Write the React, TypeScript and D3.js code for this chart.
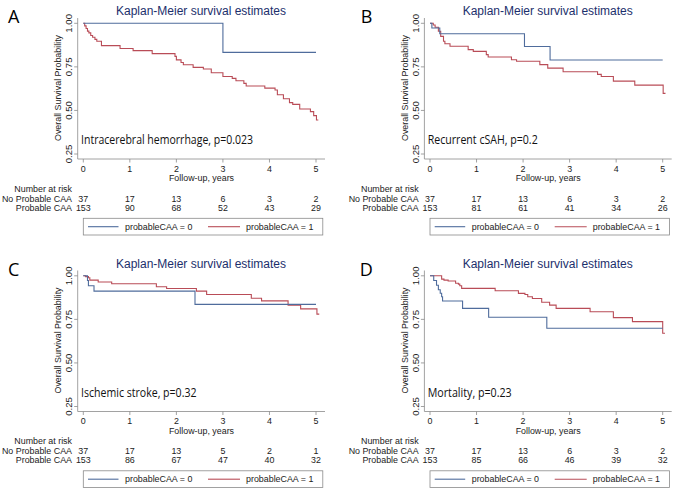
import React from "react";
import * as d3 from "d3";

// ---------- data ----------
const years = [0, 1, 2, 3, 4, 5];
const yTicks = [0.25, 0.5, 0.75, 1.0];
const groupLabels = ["No Probable CAA", "Probable CAA"];
const legendLabels = ["probableCAA = 0", "probableCAA = 1"];
const panelLetters = ["A", "B", "C", "D"];
const outcomeLabels = [
  "Intracerebral hemorrhage, p=0.023",
  "Recurrent cSAH, p=0.2",
  "Ischemic stroke, p=0.32",
  "Mortality, p=0.23",
];

// Kaplan-Meier step points [years, survival]
const ichNo: [number, number][] = [[0, 1], [3.0, 0.833], [5.0, 0.833]];
const ichProb: [number, number][] = [
  [0, 1], [0.03, 0.985], [0.06, 0.97], [0.09, 0.955], [0.12, 0.945], [0.16, 0.93], [0.2, 0.92],
  [0.25, 0.908], [0.29, 0.897], [0.39, 0.872], [0.79, 0.855], [1.07, 0.843], [1.48, 0.826],
  [1.97, 0.81], [2.0, 0.79], [2.1, 0.775], [2.15, 0.762], [2.36, 0.747], [2.58, 0.738],
  [2.75, 0.716], [3.0, 0.695], [3.2, 0.684], [3.28, 0.67], [3.45, 0.655], [3.5, 0.64],
  [3.9, 0.628], [4.12, 0.617], [4.17, 0.59], [4.3, 0.567], [4.43, 0.545], [4.5, 0.535],
  [4.65, 0.508], [4.88, 0.493], [4.95, 0.47], [5.01, 0.445], [5.05, 0.445],
];
const sahNo: [number, number][] = [[0, 1], [0.04, 0.973], [0.21, 0.94], [2.03, 0.867], [2.58, 0.789], [5.0, 0.789]];
const sahProb: [number, number][] = [
  [0, 1], [0.07, 0.99], [0.11, 0.977], [0.18, 0.954], [0.23, 0.925], [0.29, 0.897], [0.32, 0.883],
  [0.43, 0.868], [0.82, 0.849], [0.93, 0.839], [1.21, 0.82], [1.25, 0.807], [1.75, 0.791],
  [1.86, 0.782], [2.36, 0.763], [2.53, 0.743], [2.86, 0.722], [3.6, 0.707], [3.68, 0.695],
  [3.94, 0.668], [4.4, 0.645], [5.01, 0.598], [5.06, 0.598],
];
const strokeNo: [number, number][] = [[0, 1], [0.09, 0.973], [0.11, 0.943], [0.23, 0.912], [2.4, 0.836], [5.0, 0.836]];
const strokeProb: [number, number][] = [
  [0, 1], [0.05, 0.995], [0.11, 0.989], [0.14, 0.975], [0.32, 0.964], [0.61, 0.954], [1.57, 0.937],
  [1.79, 0.927], [2.43, 0.912], [2.65, 0.893], [3.61, 0.871], [3.83, 0.856], [4.4, 0.832],
  [4.67, 0.81], [5.02, 0.78], [5.07, 0.78],
];
const deathNo: [number, number][] = [
  [0, 1], [0.08, 0.973], [0.14, 0.946], [0.18, 0.92], [0.22, 0.9], [0.25, 0.88], [0.27, 0.855],
  [0.7, 0.813], [1.26, 0.762], [2.51, 0.699], [5.0, 0.699],
];
const deathProb: [number, number][] = [
  [0, 1], [0.25, 0.981], [0.3, 0.975], [0.39, 0.97], [0.55, 0.957], [0.61, 0.952], [0.64, 0.943],
  [0.68, 0.928], [1.4, 0.914], [1.9, 0.899], [2.04, 0.893], [2.1, 0.88], [2.2, 0.87], [2.4, 0.848],
  [2.57, 0.832], [2.71, 0.813], [3.44, 0.794], [3.94, 0.76], [4.35, 0.737], [5.0, 0.67], [5.05, 0.67],
];

// Number at risk
const riskNoA = [37, 17, 13, 6, 3, 2];
const riskProbA = [153, 90, 68, 52, 43, 29];
const riskNoB = [37, 17, 13, 6, 3, 2];
const riskProbB = [153, 81, 61, 41, 34, 26];
const riskNoC = [37, 17, 13, 5, 2, 1];
const riskProbC = [153, 86, 67, 47, 40, 32];
const riskNoD = [37, 17, 13, 6, 3, 2];
const riskProbD = [153, 85, 66, 46, 39, 32];

// ---------- styles ----------
const BLUE = "#4f6c9c";
const RED = "#b94c57";
const TITLE = "#1c2f6c";
const AXIS = "#8a8a8a";
const SANS = "'Liberation Sans', Arial, Helvetica, sans-serif";
const CAL = "'Open Sans', 'Noto Sans', sans-serif";

type PanelProps = {
  ox: number;
  oy: number;
  letter: string;
  letterX: number;
  no: [number, number][];
  prob: [number, number][];
  riskNo: number[];
  riskProb: number[];
  label: string;
  labelWidth: number;
};

function Panel({ ox, oy, letter, letterX, no, prob, riskNo, riskProb, label, labelWidth }: PanelProps) {
  const x = d3.scaleLinear().domain([0, 5]).range([83.3, 316]);
  const y = d3.scaleLinear().domain([0.25, 1]).range([154, 23.3]);
  const line = d3
    .line<[number, number]>()
    .x((d) => x(d[0]))
    .y((d) => y(d[1]))
    .curve(d3.curveStepAfter);
  const fmt = d3.format(".2f");
  const axX = 77.7;
  const axY = 159;
  const fs = 8.9;
  return (
    <g transform={`translate(${ox},${oy})`}>
      <text x={letterX} y={23} fontFamily={CAL} fontSize={18} fill="#000">
        {letter}
      </text>
      <text x={201} y={15} textAnchor="middle" fontFamily={SANS} fontSize={12} fill={TITLE}>
        Kaplan-Meier survival estimates
      </text>
      {/* axes */}
      <line x1={axX} x2={axX} y1={18} y2={axY} stroke={AXIS} strokeWidth={0.8} />
      <line x1={axX} x2={325} y1={axY} y2={axY} stroke={AXIS} strokeWidth={0.8} />
      {yTicks.map((v) => (
        <g key={v}>
          <line x1={axX - 3.5} x2={axX} y1={y(v)} y2={y(v)} stroke={AXIS} strokeWidth={0.8} />
          <text
            transform={`translate(${71.8},${y(v)}) rotate(-90)`}
            textAnchor="middle"
            fontFamily={SANS}
            fontSize={9.6}
            fill="#222"
          >
            {fmt(v)}
          </text>
        </g>
      ))}
      {years.map((t) => (
        <g key={t}>
          <line x1={x(t)} x2={x(t)} y1={axY} y2={axY + 3.5} stroke={AXIS} strokeWidth={0.8} />
          <text x={x(t)} y={171.5} textAnchor="middle" fontFamily={SANS} fontSize={fs} fill="#222">
            {t}
          </text>
        </g>
      ))}
      <text x={201.5} y={181} textAnchor="middle" fontFamily={SANS} fontSize={fs} fill="#222">
        Follow-up, years
      </text>
      <text
        transform={`translate(61,88) rotate(-90)`}
        textAnchor="middle"
        fontFamily={SANS}
        fontSize={fs}
        fill="#222"
      >
        Overall Survival Probability
      </text>
      {/* curves */}
      <path d={line(prob) || ""} fill="none" stroke={RED} strokeWidth={1.1} />
      <path d={line(no) || ""} fill="none" stroke={BLUE} strokeWidth={1.1} />
      {/* annotation */}
      <text
        x={81}
        y={144}
        fontFamily={CAL}
        fontSize={13}
        fill="#111"
        textLength={labelWidth}
        lengthAdjust="spacingAndGlyphs"
      >
        {label}
      </text>
      {/* risk table */}
      <text x={72} y={191.5} textAnchor="end" fontFamily={SANS} fontSize={fs} fill="#222">
        Number at risk
      </text>
      <text x={72} y={201.5} textAnchor="end" fontFamily={SANS} fontSize={fs} fill="#222">
        {groupLabels[0]}
      </text>
      <text x={72} y={210.8} textAnchor="end" fontFamily={SANS} fontSize={fs} fill="#222">
        {groupLabels[1]}
      </text>
      {years.map((t, i) => (
        <g key={"r" + t}>
          <text x={x(t)} y={201.5} textAnchor="middle" fontFamily={SANS} fontSize={fs} fill="#222">
            {riskNo[i]}
          </text>
          <text x={x(t)} y={210.8} textAnchor="middle" fontFamily={SANS} fontSize={fs} fill="#222">
            {riskProb[i]}
          </text>
        </g>
      ))}
      {/* legend */}
      <rect x={83.3} y={218.3} width={239.5} height={16.7} fill="#fff" stroke="#8a8a8a" strokeWidth={0.8} />
      <line x1={88} x2={118.5} y1={226.7} y2={226.7} stroke={BLUE} strokeWidth={1.1} />
      <text x={125} y={229.8} fontFamily={SANS} fontSize={fs} fill="#222">
        {legendLabels[0]}
      </text>
      <line x1={208} x2={240} y1={226.7} y2={226.7} stroke={RED} strokeWidth={1.1} />
      <text x={246} y={229.8} fontFamily={SANS} fontSize={fs} fill="#222">
        {legendLabels[1]}
      </text>
    </g>
  );
}

export default function App() {
  const dx = 346.7;
  const dy = 252.5;
  return (
    <svg
      width={676}
      height={490}
      style={{ position: "absolute", left: 0, top: 0, display: "block", background: "#fff" }}
    >
      <rect width={676} height={490} fill="#fff" />
      <Panel ox={0} oy={0} letter={panelLetters[0]} letterX={8} no={ichNo} prob={ichProb}
        riskNo={riskNoA} riskProb={riskProbA} label={outcomeLabels[0]} labelWidth={172} />
      <Panel ox={dx} oy={0} letter={panelLetters[1]} letterX={14} no={sahNo} prob={sahProb}
        riskNo={riskNoB} riskProb={riskProbB} label={outcomeLabels[1]} labelWidth={110} />
      <Panel ox={0} oy={dy} letter={panelLetters[2]} letterX={8} no={strokeNo} prob={strokeProb}
        riskNo={riskNoC} riskProb={riskProbC} label={outcomeLabels[2]} labelWidth={115.5} />
      <Panel ox={dx} oy={dy} letter={panelLetters[3]} letterX={13} no={deathNo} prob={deathProb}
        riskNo={riskNoD} riskProb={riskProbD} label={outcomeLabels[3]} labelWidth={84} />
    </svg>
  );
}
